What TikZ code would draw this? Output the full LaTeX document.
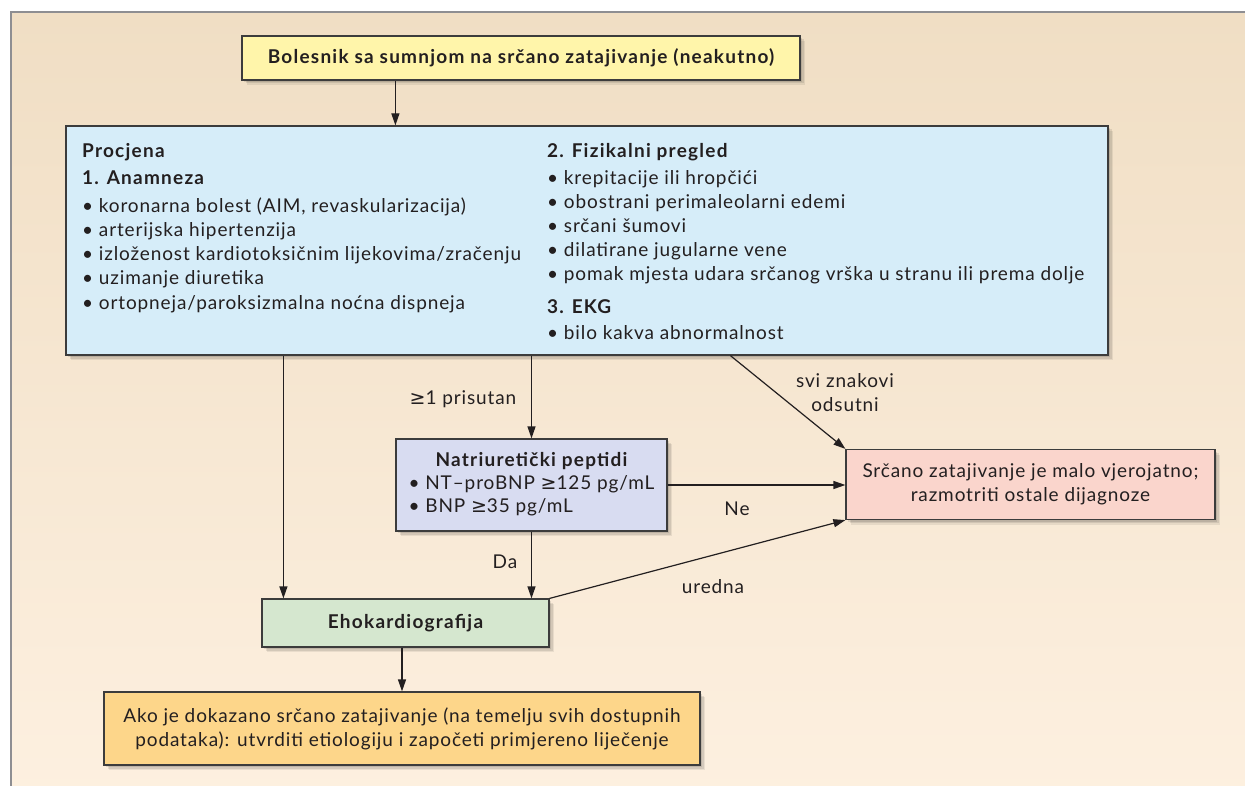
\documentclass[tikz,border=0pt]{standalone}
\usepackage{fontspec}
\setmainfont{Lato}[LetterSpace=4.6,BoldFeatures={LetterSpace=6.5}]
\newfontfamily\symf{DejaVu Sans}
\usetikzlibrary{arrows.meta,shadows}
\definecolor{bgtop}{RGB}{240,222,196}
\definecolor{bgbot}{RGB}{253,240,224}
\definecolor{framegray}{RGB}{142,142,146}
\definecolor{ink}{RGB}{35,31,32}
\definecolor{boxline}{RGB}{60,60,60}
\definecolor{cyellow}{RGB}{255,245,170}
\definecolor{cblue}{RGB}{214,237,249}
\definecolor{clav}{RGB}{216,220,241}
\definecolor{cpink}{RGB}{250,213,204}
\definecolor{cgreen}{RGB}{213,231,207}
\definecolor{corange}{RGB}{253,214,138}
\newcommand\fs{\fontsize{19pt}{24pt}\selectfont}
\newcommand\gesym{{\symf ≥}}
\begin{document}
\begin{tikzpicture}[x=1pt,y=-1pt,
  softshadow/.style={
    drop shadow={shadow xshift=5pt,shadow yshift=-5pt,opacity=0.07,fill=black},
    drop shadow={shadow xshift=3.5pt,shadow yshift=-3.5pt,opacity=0.09,fill=black},
    drop shadow={shadow xshift=2pt,shadow yshift=-2pt,opacity=0.10,fill=black}},
  box/.style={draw=boxline,line width=1.2pt,softshadow,inner sep=0pt,font=\fs,text=ink},
  txtline/.style={inner sep=0pt,font=\fs,text=ink,anchor=base west},
  lbl/.style={inner sep=0pt,font=\fs,text=ink},
  arr/.style={draw=ink,line width=1.2pt,-{Triangle[length=12pt,width=8pt]}}]
\useasboundingbox (0,0) rectangle (1245,786);
\clip (0,0) rectangle (1245,786);
\fill[white] (0,0) rectangle (1245,786);
\shade[top color=bgtop,bottom color=bgbot] (11,12) rectangle (1262,800);
\draw[framegray,line width=2pt] (11,802) -- (11,12) -- (1262,12);

% boxes
\node[box,fill=cyellow,minimum width=558pt,minimum height=44pt] (top) at (521,58)
  {\bfseries Bolesnik sa sumnjom na srčano zatajivanje (neakutno)};
\node[box,fill=cblue,minimum width=1042pt,minimum height=229pt] (main) at (587,240.5) {};
\node[box,fill=clav,minimum width=271pt,minimum height=92pt] (natri) at (531.5,485)
  {\begin{tabular}{@{}l@{}}\multicolumn{1}{@{}c@{}}{\bfseries Natriuretički peptidi}\\[-1pt]
   • NT–proBNP \gesym125 pg/mL\\[-1pt] • BNP \gesym35 pg/mL\end{tabular}};
\node[box,fill=cpink,minimum width=369pt,minimum height=70pt,align=center] (neg) at (1030.5,484.5)
  {\raisebox{-2pt}{Srčano zatajivanje je malo vjerojatno;}\\\raisebox{-2pt}{razmotriti ostale dijagnoze}};
\node[box,fill=cgreen,minimum width=287pt,minimum height=48pt] (echo) at (405.5,623)
  {\bfseries Ehokardiografija};
\node[box,fill=corange,minimum width=596pt,minimum height=73pt,align=center] (final) at (402,728.5)
  {Ako je dokazano srčano zatajivanje (na temelju svih dostupnih\\podataka): utvrditi etiologiju i započeti primjereno liječenje};

% text of the assessment box
\foreach \yy/\txt [count=\i] in {158/{\bfseries Procjena},185/{\bfseries 1. Anamneza},
  213/{• koronarna bolest (AIM, revaskularizacija)},237/{• arterijska hipertenzija},
  261/{• izloženost kardiotoksičnim lijekovima/zračenju},285/{• uzimanje diuretika},
  309/{• ortopneja/paroksizmalna noćna dispneja}}
  \node[txtline] (L\i) at (82,\yy) {\txt};
\foreach \yy/\txt [count=\i] in {158/{\bfseries 2. Fizikalni pregled},185/{• krepitacije ili hropčići},
  209/{• obostrani perimaleolarni edemi},233/{• srčani šumovi},257/{• dilatirane jugularne vene},
  281/{• pomak mjesta udara srčanog vrška u stranu ili prema dolje},313/{\bfseries 3. EKG},
  339/{• bilo kakva abnormalnost}}
  \node[txtline] (R\i) at (547,\yy) {\txt};

% connectors
\coordinate (t1) at ([xshift=154pt]top.south west);
\draw[arr] (t1) -- (t1 |- main.north);
\coordinate (e1) at ([xshift=22pt]echo.north west);
\draw[arr] (main.south -| e1) -- (e1);
\draw[arr] (main.south -| natri.north) -- (natri.north);
\coordinate (m1) at ([xshift=665pt]main.south west);
\draw[arr] (m1) -- (neg.north west);
\draw[arr] (natri.east) -- (natri.east -| neg.west);
\draw[arr] (natri.south) -- (natri.south |- echo.north);
\draw[arr] (echo.north east) -- (neg.south west);
\draw[arr] (echo.south -| final.north) -- (final.north);

% labels
\node[lbl] (lpres) at (463,399) {\gesym1 prisutan};
\node[lbl,align=center] (labs) at (845,393) {svi znakovi\\odsutni};
\node[lbl] (lne) at (737,509) {Ne};
\node[lbl] (lda) at (505,562) {Da};
\node[lbl] (lur) at (713,587) {uredna};
\end{tikzpicture}
\end{document}
